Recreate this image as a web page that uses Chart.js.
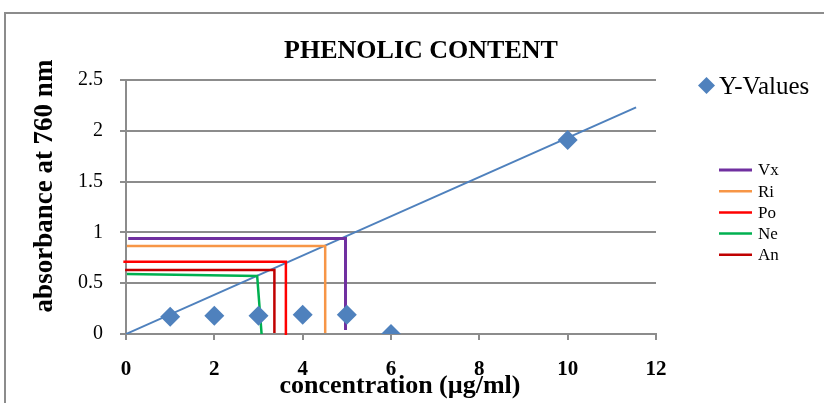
<!DOCTYPE html>
<html>
<head>
<meta charset="utf-8">
<script src="https://cdn.jsdelivr.net/npm/chart.js@4.4.0/dist/chart.umd.min.js"></script>
<style>
html, body { margin: 0; padding: 0; background: #fff; }
#wrap { width: 824px; height: 403px; position: relative; }
</style>
</head>
<body>
<div id="wrap"><canvas id="myChart"></canvas></div>
<script>
// datos
const concentracion = [1, 2, 3, 4, 5, 6, 10];
const absorbancia = [0.17, 0.18, 0.18, 0.19, 0.19, 0, 1.91];
const tendenciaX = [0, 11.55];
const tendenciaY = [0, 2.23];
const xTicks = [0, 2, 4, 6, 8, 10, 12];
const yTicks = [0, 0.5, 1, 1.5, 2, 2.5];

const muestras = ['Vx', 'Ri', 'Po', 'Ne', 'An'];
const vxX = [0.05, 4.97, 4.97];
const vxY = [0.94, 0.94, 0.04];
const riX = [0.02, 4.51, 4.51];
const riY = [0.865, 0.865, 0.01];
const poX = [-0.06, 3.62, 3.62];
const poY = [0.71, 0.71, -0.01];
const neX = [0.02, 2.97, 3.07];
const neY = [0.59, 0.57, 0.0];
const anX = [-0.02, 3.36, 3.36];
const anY = [0.63, 0.63, 0.01];

const serif = '"Liberation Serif", "Times New Roman", serif';
const azul = '#4F81BD';
const gris = '#8C8C8C';

function puntos(xs, ys) {
    return xs.map((x, i) => ({ x: x, y: ys[i] }));
}

const estilos = {
    Vx: { color: '#7030A0', ancho: 3 },
    Ri: { color: '#F79646', ancho: 2.5 },
    Po: { color: '#FF0000', ancho: 2.5 },
    Ne: { color: '#00B050', ancho: 2.5 },
    An: { color: '#C00000', ancho: 2.5 }
};
const lineasMuestra = [[vxX, vxY], [riX, riY], [poX, poY], [neX, neY], [anX, anY]];

const datasets = [{
    label: 'Y-Values',
    data: puntos(concentracion, absorbancia),
    pointStyle: 'rectRot',
    pointRadius: 10,
    backgroundColor: azul,
    borderColor: azul,
    borderWidth: 0,
    showLine: false,
    order: 1
}, {
    label: 'tendencia',
    data: puntos(tendenciaX, tendenciaY),
    showLine: true,
    pointRadius: 0,
    borderColor: azul,
    borderWidth: 2,
    order: 3
}];

muestras.forEach((m, i) => {
    datasets.push({
        label: m,
        data: puntos(lineasMuestra[i][0], lineasMuestra[i][1]),
        showLine: true,
        pointRadius: 0,
        borderColor: estilos[m].color,
        borderWidth: estilos[m].ancho,
        borderJoinStyle: 'miter',
        clip: false,
        order: 2
    });
});

// marco, titulos y leyendas dibujados a mano
const decoracion = {
    id: 'decoracion',
    afterDraw(chart) {
        const ctx = chart.ctx;
        ctx.save();
        ctx.strokeStyle = gris;
        ctx.lineWidth = 2;
        ctx.beginPath();
        ctx.moveTo(5, 410);
        ctx.lineTo(5, 13);
        ctx.lineTo(830, 13);
        ctx.stroke();

        ctx.fillStyle = '#000';
        ctx.font = 'bold 26px ' + serif;
        ctx.textAlign = 'center';
        ctx.textBaseline = 'middle';
        ctx.fillText('PHENOLIC CONTENT', 421, 51);

        // titulo eje x
        ctx.font = 'bold 26px ' + serif;
        ctx.fillText('concentration (µg/ml)', 400, 386);

        // titulo eje y
        ctx.save();
        ctx.translate(45, 186);
        ctx.rotate(-Math.PI / 2);
        ctx.font = 'bold 27px ' + serif;
        ctx.fillText('absorbance at 760 nm', 0, 0);
        ctx.restore();

        // leyenda serie
        ctx.fillStyle = azul;
        ctx.beginPath();
        ctx.moveTo(706.5, 77);
        ctx.lineTo(715, 85.5);
        ctx.lineTo(706.5, 94);
        ctx.lineTo(698, 85.5);
        ctx.closePath();
        ctx.fill();
        ctx.fillStyle = '#000';
        ctx.font = '25px ' + serif;
        ctx.textAlign = 'left';
        ctx.fillText('Y-Values', 719, 87);

        // leyenda muestras
        ctx.font = '17px ' + serif;
        muestras.forEach((m, i) => {
            const y = 170 + i * 21.2;
            ctx.strokeStyle = estilos[m].color;
            ctx.lineWidth = estilos[m].ancho;
            ctx.beginPath();
            ctx.moveTo(719, y);
            ctx.lineTo(752, y);
            ctx.stroke();
            ctx.fillStyle = '#000';
            ctx.fillText(m, 758, y + 1);
        });
        ctx.restore();
    }
};

const config = {
    type: 'scatter',
    data: { datasets: datasets },
    options: {
        responsive: false,
        animation: false,
        layout: { padding: { left: 0, right: 168, top: 80, bottom: 0 } },
        plugins: {
            legend: { display: false },
            title: { display: false },
            tooltip: { enabled: false }
        },
        scales: {
            x: {
                type: 'linear',
                min: 0,
                max: 12,
                afterBuildTicks: s => { s.ticks = xTicks.map(v => ({ value: v })); },
                afterFit: s => { s.height = 69; },
                ticks: {
                    color: '#000',
                    padding: 17,
                    font: { family: serif, size: 21, weight: 'bold' },
                    callback: v => String(v)
                },
                grid: {
                    drawOnChartArea: false,
                    drawTicks: true,
                    tickLength: 6,
                    color: gris,
                    lineWidth: 2
                },
                border: { color: gris, width: 2 },
                title: { display: false }
            },
            y: {
                min: 0,
                max: 2.5,
                afterBuildTicks: s => { s.ticks = yTicks.map(v => ({ value: v })); },
                afterFit: s => { s.width = 126; },
                ticks: {
                    color: '#000',
                    padding: 17,
                    font: { family: serif, size: 20 },
                    callback: v => String(v)
                },
                grid: {
                    color: gris,
                    lineWidth: 2,
                    drawTicks: true,
                    tickLength: 6
                },
                border: { color: gris, width: 2 },
                title: { display: false }
            }
        }
    },
    plugins: [decoracion]
};

const chartDOM = document.getElementById('myChart');
chartDOM.width = 824;
chartDOM.height = 403;
window.myChart = new Chart(chartDOM, config);
</script>
</body>
</html>
